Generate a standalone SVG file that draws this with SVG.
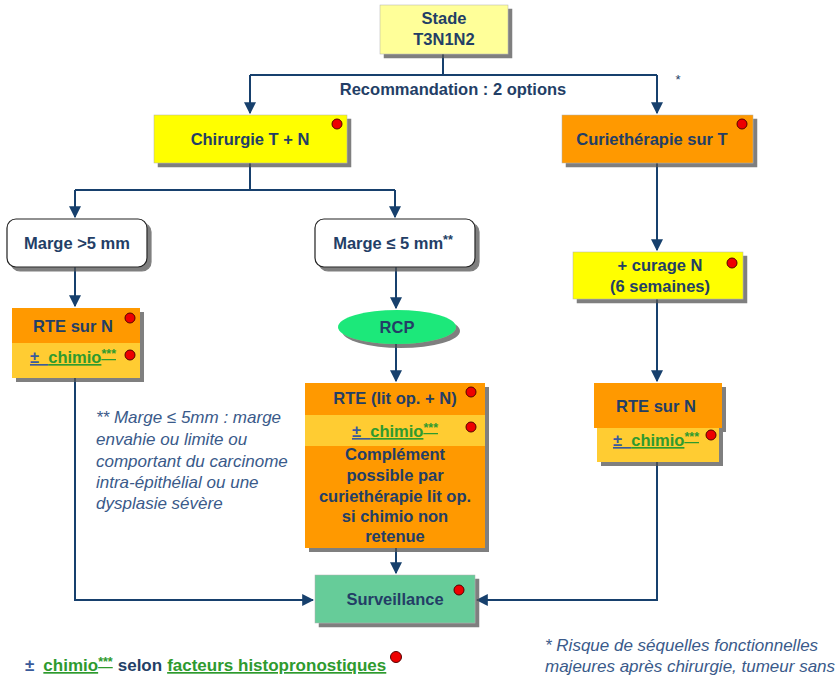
<svg xmlns="http://www.w3.org/2000/svg" width="839" height="679" viewBox="0 0 839 679">
  <defs>
    <marker id="arr" viewBox="0 0 10 10" refX="9" refY="5" markerWidth="12" markerHeight="12" markerUnits="userSpaceOnUse" orient="auto">
      <path d="M0,0 L10,5 L0,10 z" fill="#17406D"/>
    </marker>
    <filter id="shd" x="-10%" y="-10%" width="130%" height="140%">
      <feOffset dx="4" dy="4" in="SourceAlpha" result="o"/>
      <feFlood flood-color="#555" flood-opacity="0.75"/>
      <feComposite in2="o" operator="in" result="s"/>
      <feMerge><feMergeNode in="s"/><feMergeNode in="SourceGraphic"/></feMerge>
    </filter>
  </defs>
  <style>
    .t { font-family: "Liberation Sans", Arial, sans-serif; font-weight: bold; font-size: 16.5px; fill: #233E66; text-anchor: middle; }
    .g { fill: #2E9A2E; text-decoration: underline; }
    .b { fill: #3A5A9A; text-decoration: underline; }
    .sup { font-size: 12.5px; }
    .note { font-family: "Liberation Sans", Arial, sans-serif; font-style: italic; font-size: 17px; fill: #3A5A8A; }
    .dot { fill: #EE0000; stroke: #550000; stroke-width: 1; }
    .edge { fill: none; stroke: #17406D; stroke-width: 2; }
    .box { stroke: #B0B0B0; stroke-width: 0.5; filter: url(#shd); }
    .round { fill: #FFFFFF; stroke: #222; stroke-width: 1.2; filter: url(#shd); }
  </style>

  <rect width="839" height="679" fill="#FFFFFF"/>

  <!-- connectors -->
  <g id="connectors">
    <path class="edge" d="M443,54 V75 M250,75 H657"/>
    <path class="edge" d="M250,75 V113" marker-end="url(#arr)"/>
    <path class="edge" d="M657,75 V113" marker-end="url(#arr)"/>
    <path class="edge" d="M250,162 V190 M75,190 H395"/>
    <path class="edge" d="M75,190 V217" marker-end="url(#arr)"/>
    <path class="edge" d="M395,190 V217" marker-end="url(#arr)"/>
    <path class="edge" d="M75,267 V306" marker-end="url(#arr)"/>
    <path class="edge" d="M396,267 V308" marker-end="url(#arr)"/>
    <path class="edge" d="M396,344 V381" marker-end="url(#arr)"/>
    <path class="edge" d="M396,548 V573" marker-end="url(#arr)"/>
    <path class="edge" d="M657,162 V250" marker-end="url(#arr)"/>
    <path class="edge" d="M657,299 V381" marker-end="url(#arr)"/>
    <path class="edge" d="M75,378 V600 H313" marker-end="url(#arr)"/>
    <path class="edge" d="M657,462 V600 H477" marker-end="url(#arr)"/>
  </g>

  <g id="stade">
    <rect class="box" x="380" y="5" width="128" height="49" fill="#FFFF99"/>
    <text class="t" x="444" y="24">Stade</text>
    <text class="t" x="444" y="45">T3N1N2</text>
  </g>

  <g id="recommandation">
    <text class="t" x="453" y="95">Recommandation : 2 options</text>
    <text class="t" x="678" y="84" style="font-weight:normal;font-size:13px">*</text>
  </g>

  <g id="chirurgie">
    <rect class="box" x="154" y="115" width="193" height="48" fill="#FFFF00"/>
    <text class="t" x="250" y="145">Chirurgie T + N</text>
    <circle class="dot" cx="337" cy="124" r="5"/>
  </g>

  <g id="curietherapie">
    <rect class="box" x="562" y="115" width="191" height="48" fill="#FF9900"/>
    <text class="t" x="652" y="145">Curiethérapie sur T</text>
    <circle class="dot" cx="742" cy="124" r="5"/>
  </g>

  <g id="marge-sup">
    <rect class="round" x="7" y="219" width="140" height="48" rx="9"/>
    <text class="t" x="77" y="249">Marge &gt;5 mm</text>
  </g>

  <g id="marge-inf">
    <rect class="round" x="315" y="219" width="160" height="48" rx="9"/>
    <text class="t" x="393" y="249">Marge ≤ 5 mm<tspan class="sup" dy="-5">**</tspan></text>
  </g>

  <g id="rte-gauche">
    <g filter="url(#shd)">
      <rect x="12" y="308" width="128" height="35" fill="#FF9900"/>
      <rect x="12" y="343" width="128" height="35" fill="#FFCC33"/>
    </g>
    <text class="t" x="73" y="332">RTE sur N</text>
    <circle class="dot" cx="130" cy="318" r="5"/>
    <text class="t" x="73" y="363"><tspan class="b">±&#160;&#160;</tspan><tspan class="g">chimio<tspan class="sup" dy="-5">***</tspan></tspan></text>
    <circle class="dot" cx="130" cy="355" r="5"/>
  </g>

  <g id="rcp">
    <ellipse cx="397" cy="327" rx="59" ry="17" fill="#1EE87A" filter="url(#shd)"/>
    <text class="t" x="397" y="333">RCP</text>
  </g>

  <g id="rte-centre">
    <g filter="url(#shd)">
      <rect x="305" y="383" width="180" height="32" fill="#FF9900"/>
      <rect x="305" y="415" width="180" height="31" fill="#FFCC33"/>
      <rect x="305" y="446" width="180" height="102" fill="#FF9900"/>
    </g>
    <text class="t" x="395" y="404">RTE (lit op. + N)</text>
    <circle class="dot" cx="471" cy="392" r="5"/>
    <text class="t" x="395" y="437"><tspan class="b">±&#160;&#160;</tspan><tspan class="g">chimio<tspan class="sup" dy="-5">***</tspan></tspan></text>
    <circle class="dot" cx="471" cy="427" r="5"/>
    <text class="t" x="395" y="460">Complément</text>
    <text class="t" x="395" y="481">possible par</text>
    <text class="t" x="395" y="502">curiethérapie lit op.</text>
    <text class="t" x="395" y="522">si chimio non</text>
    <text class="t" x="395" y="542">retenue</text>
  </g>

  <g id="curage">
    <rect class="box" x="573" y="252" width="170" height="47" fill="#FFFF00"/>
    <text class="t" x="660" y="271">+ curage N</text>
    <text class="t" x="660" y="292">(6 semaines)</text>
    <circle class="dot" cx="732" cy="263" r="5"/>
  </g>

  <g id="rte-droite">
    <g filter="url(#shd)">
      <rect x="594" y="383" width="128" height="45" fill="#FF9900"/>
      <rect x="597" y="428" width="122" height="34" fill="#FFCC33"/>
    </g>
    <text class="t" x="656" y="412">RTE sur N</text>
    <text class="t" x="656" y="446"><tspan class="b">±&#160;&#160;</tspan><tspan class="g">chimio<tspan class="sup" dy="-5">***</tspan></tspan></text>
    <circle class="dot" cx="711" cy="435" r="5"/>
  </g>

  <g id="surveillance">
    <rect class="box" x="315" y="575" width="160" height="48" fill="#66CC99"/>
    <text class="t" x="395" y="605">Surveillance</text>
    <circle class="dot" cx="459" cy="590" r="5"/>
  </g>

  <g id="note-marge">
    <text class="note" x="96" y="423">** Marge ≤ 5mm : marge</text>
    <text class="note" x="96" y="445">envahie ou limite ou</text>
    <text class="note" x="96" y="467">comportant du carcinome</text>
    <text class="note" x="96" y="488">intra-épithélial ou une</text>
    <text class="note" x="96" y="509">dysplasie sévère</text>
  </g>

  <g id="legende">
    <text class="t" x="25" y="671" style="text-anchor:start;font-size:17px"><tspan fill="#3A5A9A">±</tspan><tspan class="g" dx="9">chimio<tspan class="sup" dy="-5">***</tspan></tspan><tspan dy="5" dx="5">selon</tspan><tspan dx="5" class="g">facteurs histopronostiques</tspan></text>
    <circle class="dot" cx="396" cy="657" r="5.5"/>
  </g>

  <g id="note-risque">
    <text class="note" x="545" y="651">* Risque de séquelles fonctionnelles</text>
    <text class="note" x="545" y="672">majeures après chirurgie, tumeur sans</text>
  </g>
</svg>
